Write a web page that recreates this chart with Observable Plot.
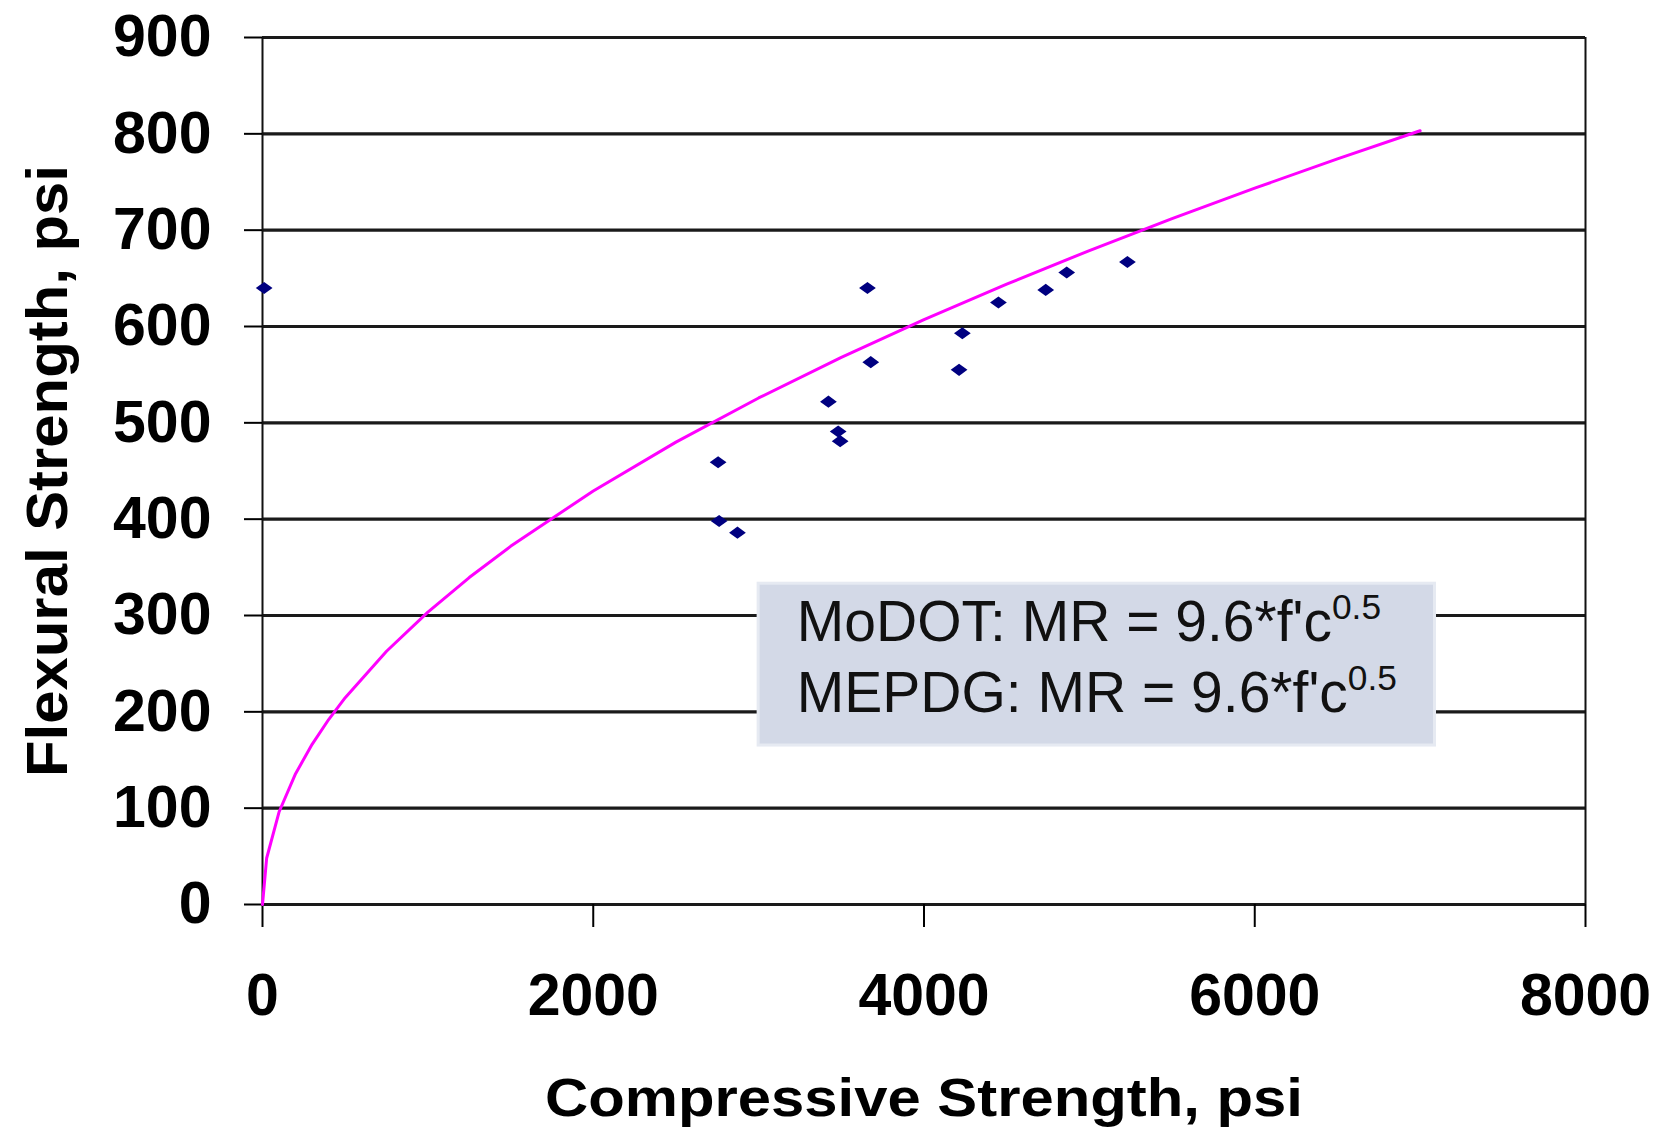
<!DOCTYPE html>
<html>
<head>
<meta charset="utf-8">
<script src="https://cdn.jsdelivr.net/npm/d3@7"></script>
<script src="https://cdn.jsdelivr.net/npm/@observablehq/plot@0.6"></script>
<style>
  html, body { margin: 0; padding: 0; background: #fff; }
  #chart svg { display: block; }
</style>
</head>
<body>
<div id="chart"></div>
<script>
// Measured specimens: compressive strength f'c (psi) vs. flexural strength MR (psi)
const compressive = [10, 2755, 2761, 2872, 3422, 3481, 3493, 3658, 3678, 4212, 4232, 4450, 4736, 4863, 5230];
const flexural    = [640, 459, 398, 386, 522, 491, 481, 640, 563, 555, 593, 625, 638, 656, 667];

// Design relation MR = 9.6 * f'c^0.5, evaluated at these compressive strengths
const fitCoef = 9.6;
const fitExp = 0.5;
const fitX = [0, 25, 100, 200, 300, 400, 500, 750, 1000, 1250, 1500, 2000, 2500, 3000,
              3500, 4000, 4500, 5000, 5500, 6000, 6500, 7000];

const xTicks = [0, 2000, 4000, 6000, 8000];
const yTicks = [0, 100, 200, 300, 400, 500, 600, 700, 800, 900];
const equationSources = ["MoDOT", "MEPDG"];

const points = compressive.map((c, i) => ({c, mr: flexural[i]}));
const fit = fitX.map(c => ({c, mr: fitCoef * Math.pow(c, fitExp)}));

// Callout box and its equation lines (placed in data space)
const box = [{x1: 3000, x2: 7090, y1: 165, y2: 333}];
const eqLines = equationSources.map((s, i) => ({
  text: `${s}: MR = ${fitCoef}*f'c`,
  c: 3231,
  mr: i === 0 ? 274 : 200
}));

// A wide diamond marker
const wideDiamond = {
  draw(context, size) {
    const w = Math.sqrt(size) * 0.45, h = w * 0.72;
    context.moveTo(0, -h);
    context.lineTo(w, 0);
    context.lineTo(0, h);
    context.lineTo(-w, 0);
    context.closePath();
  }
};

const font = "'Liberation Sans', Arial, sans-serif";

const chart = Plot.plot({
  width: 1667,
  height: 1129,
  marginLeft: 262,
  marginRight: 82,
  marginTop: 37,
  marginBottom: 225,
  style: {fontFamily: font, fontSize: "59px", fontWeight: "bold", color: "#000", background: "#fff"},
  x: {domain: [0, 8000]},
  y: {domain: [0, 900]},
  marks: [
    Plot.gridY(yTicks, {stroke: "#1a1a1a", strokeWidth: 3.2, strokeOpacity: 1}),
    Plot.ruleX([0, 8000], {stroke: "#111", strokeWidth: 2}),
    Plot.axisY(yTicks, {tickSize: 18, tickPadding: 33, strokeWidth: 2, label: null,
                        tickFormat: d => String(d), fontSize: 59, fontWeight: "bold"}),
    Plot.axisX(xTicks, {tickSize: 23, tickPadding: 46, strokeWidth: 2, label: null,
                        tickFormat: d => String(d), fontSize: 59, fontWeight: "bold"}),
    Plot.text(["Compressive Strength, psi"], {frameAnchor: "bottom", dy: 194,
              fontSize: 54, fontWeight: "bold", lineAnchor: "middle", textAnchor: "middle",
              className: "x-title"}),
    Plot.text(["Flexural Strength, psi"], {frameAnchor: "left", dx: -214, rotate: -90,
              fontSize: 57, fontWeight: "bold", lineAnchor: "middle", textAnchor: "middle",
              className: "y-title"}),
    Plot.line(fit, {x: "c", y: "mr", stroke: "#ff00ff", strokeWidth: 3}),
    Plot.dot(points, {x: "c", y: "mr", symbol: wideDiamond, r: 10.5, fill: "#000080", stroke: "none"}),
    Plot.rect(box, {x1: "x1", x2: "x2", y1: "y1", y2: "y2", fill: "#d3d9e7", stroke: "#e6eaf2", strokeWidth: 3}),
    Plot.text(eqLines, {x: "c", y: "mr", text: "text", textAnchor: "start", lineAnchor: "bottom",
              fontSize: 57, fontWeight: "normal", fill: "#111", className: "eq-label"})
  ]
});

// Axis titles are set in a condensed width
d3.select(chart).select("g.x-title text")
  .attr("textLength", 758).attr("lengthAdjust", "spacingAndGlyphs");
d3.select(chart).select("g.y-title text")
  .attr("textLength", 612).attr("lengthAdjust", "spacingAndGlyphs");

// Exponent as a raised superscript after each equation
d3.select(chart).selectAll("g.eq-label text").each(function() {
  d3.select(this).append("tspan")
    .attr("dy", "-0.62em")
    .attr("font-size", "0.62em")
    .text(String(fitExp));
});

document.getElementById("chart").appendChild(chart);
</script>
</body>
</html>
